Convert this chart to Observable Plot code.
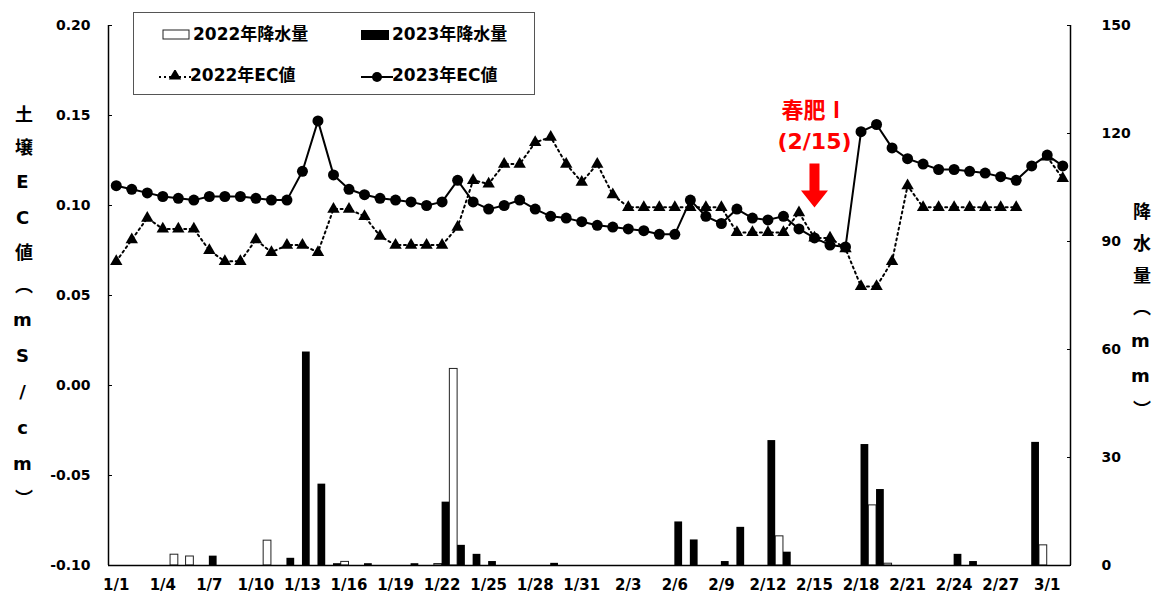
<!DOCTYPE html>
<html><head><meta charset="utf-8">
<script src="https://cdn.jsdelivr.net/npm/d3@7"></script>
<script src="https://cdn.jsdelivr.net/npm/@observablehq/plot@0.6"></script>
<style>
body{margin:0;background:#fff;}
#wrap{position:relative;width:1157px;height:596px;font-family:"DejaVu Sans","Noto Sans CJK JP",sans-serif;font-weight:bold;color:#000;}
.vt{position:absolute;writing-mode:vertical-rl;text-orientation:upright;font-size:18px;line-height:20px;font-weight:bold;}
#legend{position:absolute;left:133px;top:12px;width:402px;height:83px;border:1px solid #555;box-sizing:border-box;background:#fff;}
.li{position:absolute;font-size:17px;line-height:18px;white-space:nowrap;}
.ic{position:absolute;}
</style></head><body><div id="wrap"></div>
<script>
const dates = ["1/1","1/2","1/3","1/4","1/5","1/6","1/7","1/8","1/9","1/10","1/11","1/12","1/13","1/14","1/15","1/16","1/17","1/18","1/19","1/20","1/21","1/22","1/23","1/24","1/25","1/26","1/27","1/28","1/29","1/30","1/31","2/1","2/2","2/3","2/4","2/5","2/6","2/7","2/8","2/9","2/10","2/11","2/12","2/13","2/14","2/15","2/16","2/17","2/18","2/19","2/20","2/21","2/22","2/23","2/24","2/25","2/26","2/27","2/28","2/29","3/1","3/2"];
const xTickLabels = ["1/1","1/4","1/7","1/10","1/13","1/16","1/19","1/22","1/25","1/28","1/31","2/3","2/6","2/9","2/12","2/15","2/18","2/21","2/24","2/27","3/1"];
const ec2022 = [0.069,0.081,0.093,0.087,0.087,0.087,0.075,0.069,0.069,0.081,0.074,0.078,0.078,0.074,
  0.098,0.098,0.094,0.083,0.078,0.078,0.078,0.078,0.088,
  0.114,0.112,0.123,0.123,0.135,0.138,0.123,0.113,0.123,0.106,0.099,0.099,0.099,0.099,0.099,0.099,0.099,
  0.085,0.085,0.085,0.085,
  0.096,0.082,0.082,0.076,0.055,0.055,0.069,0.111,0.099,0.099,0.099,0.099,0.099,0.099,0.099,
  null,0.127,0.115];
const ec2023 = [0.111,0.109,0.107,0.105,0.104,0.103,0.105,0.105,0.105,0.104,0.103,0.103,
  0.119,0.147,0.117,0.109,0.106,0.104,0.103,0.102,0.100,0.102,0.114,
  0.102,0.098,0.100,0.103,0.098,0.094,0.093,0.091,0.089,0.088,0.087,0.086,0.084,0.084,
  0.103,0.094,0.090,0.098,0.093,0.092,0.094,0.087,0.082,0.078,0.077,
  0.141,0.145,0.132,0.126,0.123,0.120,0.120,0.119,0.118,0.116,0.114,0.122,0.128,0.122];
const rain2022 = [0,0,0,0,3.0,2.5,0,0,0,0,6.9,0,0,0,0,1.0,0,0,0,0,0,0.4,54.6,0,0,0,0,0,0,0,0,
  0,0,0,0,0,0,0,0,0,0,0,0,8.1,0,0,0,0,0,16.7,0.5,0,0,0,0,0,0,0,0,null,5.6,0];
const rain2023 = [0,0,0,0,0,0,2.6,0,0,0,0,2.0,59.3,22.6,0.5,0,0.5,0,0,0.5,0,17.6,5.6,3.1,1.1,0,0,0,0.6,0,0,
  0,0,0,0,0,12.1,7.1,0,1.1,10.6,0,34.7,3.7,0,0,0,0,33.6,21.1,0,0,0,0,3.1,1.1,0,0,0,34.2,0,0];
const ecTicks = [-0.10,-0.05,0.00,0.05,0.10,0.15,0.20];
const rainTicks = [0,30,60,90,120,150];
const noteTitle = [{d:"2/15", t:"春肥Ⅰ", v:0.1525}];
const noteDate = [{d:"2/15", t:"(2/15)", v:0.1355}];

const W = 1157, H = 596, ML = 108, MR = 87, MT = 25, MB = 31;
const bw = (W - ML - MR) / dates.length;
const toEC = mm => -0.1 + mm * 0.3 / 150;
const FONT = '"DejaVu Sans","Noto Sans CJK JP",sans-serif';
const rows = dates.map((d, i) => ({d, ec22: ec2022[i], ec23: ec2023[i], r22: rain2022[i], r23: rain2023[i]}));

const arrowSym = {draw(ctx) {
  ctx.moveTo(-5, -27); ctx.lineTo(5, -27); ctx.lineTo(5, 0); ctx.lineTo(13.5, 0);
  ctx.lineTo(0, 17); ctx.lineTo(-13.5, 0); ctx.lineTo(-5, 0); ctx.closePath();
}};

const plot = Plot.plot({
  width: W, height: H, marginLeft: ML, marginRight: MR, marginTop: MT, marginBottom: MB,
  style: {fontFamily: FONT, fontWeight: "bold", background: "white", overflow: "visible", color: "black"},
  x: {type: "band", domain: dates, padding: 0, axis: null, label: null},
  y: {domain: [-0.1, 0.2], axis: null, label: null},
  marks: [
    Plot.barY(rows.filter(r => r.r22 > 0), {x: "d", y1: () => -0.1, y2: r => toEC(r.r22), fill: "white", stroke: "#222", strokeWidth: 1, insetRight: bw / 2}),
    Plot.barY(rows.filter(r => r.r23 > 0), {x: "d", y1: () => -0.1, y2: r => toEC(r.r23), fill: "black", insetLeft: bw / 2}),
    Plot.ruleY([-0.1], {stroke: "black", strokeWidth: 1.5}),
    Plot.ruleX([dates[0]], {dx: -bw / 2, y1: () => -0.1, y2: () => 0.2, stroke: "black", strokeWidth: 1.5}),
    Plot.ruleX([dates[dates.length - 1]], {dx: bw / 2, y1: () => -0.1, y2: () => 0.2, stroke: "black", strokeWidth: 1.5}),
    Plot.axisY({ticks: ecTicks, tickFormat: v => v.toFixed(2), anchor: "left", label: null, tickSize: -4, tickPadding: 22, fontSize: 14, fontWeight: "bold"}),
    Plot.axisY({ticks: rainTicks.map(toEC), tickFormat: v => String(Math.round((v + 0.1) * 500)), anchor: "right", label: null, tickSize: -4, tickPadding: 35, fontSize: 14, fontWeight: "bold"}),
    Plot.axisX({ticks: xTickLabels, label: null, tickSize: 0, tickPadding: 14, fontSize: 15, fontWeight: "bold"}),
    Plot.line(rows, {x: "d", y: "ec22", stroke: "black", strokeWidth: 2, strokeDasharray: "2,3.5"}),
    Plot.dot(rows.filter(r => r.ec22 != null), {x: "d", y: "ec22", symbol: "triangle", r: 4.6, fill: "black", stroke: null}),
    Plot.line(rows, {x: "d", y: "ec23", stroke: "black", strokeWidth: 2}),
    Plot.dot(rows, {x: "d", y: "ec23", r: 5.5, fill: "black", stroke: null}),
    Plot.text(noteTitle, {x: "d", y: "v", text: "t", fill: "#ff0000", fontSize: 22, fontWeight: "bold", fontFamily: '"Noto Sans CJK JP",sans-serif'}),
    Plot.text(noteDate, {x: "d", y: "v", text: "t", fill: "#ff0000", fontSize: 22, fontWeight: "bold", fontFamily: '"DejaVu Sans",sans-serif'}),
    Plot.dot([{d: "2/15", v: 0.1083}], {x: "d", y: "v", symbol: arrowSym, fill: "#ff0000", stroke: null})
  ]
});

const wrap = document.getElementById("wrap");
wrap.appendChild(plot);

function vt(text, left, top, ls) {
  const el = document.createElement("div");
  el.className = "vt"; el.textContent = text;
  el.style.left = left + "px"; el.style.top = top + "px"; el.style.letterSpacing = ls + "px";
  wrap.appendChild(el);
}
vt("土壌EC値（mS/cm）", 12, 105, 15);
vt("降水量（mm）", 1130, 202, 14);

// legend
const lg = document.createElement("div"); lg.id = "legend"; wrap.appendChild(lg);
const items = [
  {label: "2022年降水量", x: 28, y: 14, icon: s => s.append("rect").attr("x", 1).attr("y", 1).attr("width", 26).attr("height", 9).attr("fill", "white").attr("stroke", "#222")},
  {label: "2023年降水量", x: 227, y: 14, icon: s => s.append("rect").attr("x", 0).attr("y", 1).attr("width", 28).attr("height", 10).attr("fill", "black")},
  {label: "2022年EC値", x: 25, y: 55, icon: s => {
    s.append("line").attr("x1", 0).attr("x2", 32).attr("y1", 7).attr("y2", 7).attr("stroke", "black").attr("stroke-width", 2).attr("stroke-dasharray", "2,3");
    s.append("path").attr("d", d3.symbol(d3.symbolTriangle, 4.6 * 4.6 * Math.PI)()).attr("transform", "translate(16,6)").attr("fill", "black");
  }},
  {label: "2023年EC値", x: 227, y: 55, icon: s => {
    s.append("line").attr("x1", 0).attr("x2", 32).attr("y1", 7).attr("y2", 7).attr("stroke", "black").attr("stroke-width", 2);
    s.append("circle").attr("cx", 16).attr("cy", 7).attr("r", 5).attr("fill", "black");
  }}
];
for (const it of items) {
  const svg = d3.select(lg).append("svg").attr("class", "ic").attr("width", 34).attr("height", 14)
    .style("left", it.x + "px").style("top", (it.y + 2) + "px");
  it.icon(svg);
  const t = document.createElement("div"); t.className = "li"; t.textContent = it.label;
  t.style.left = (it.x + 31) + "px"; t.style.top = (it.y - 2) + "px";
  lg.appendChild(t);
}
</script></body></html>
